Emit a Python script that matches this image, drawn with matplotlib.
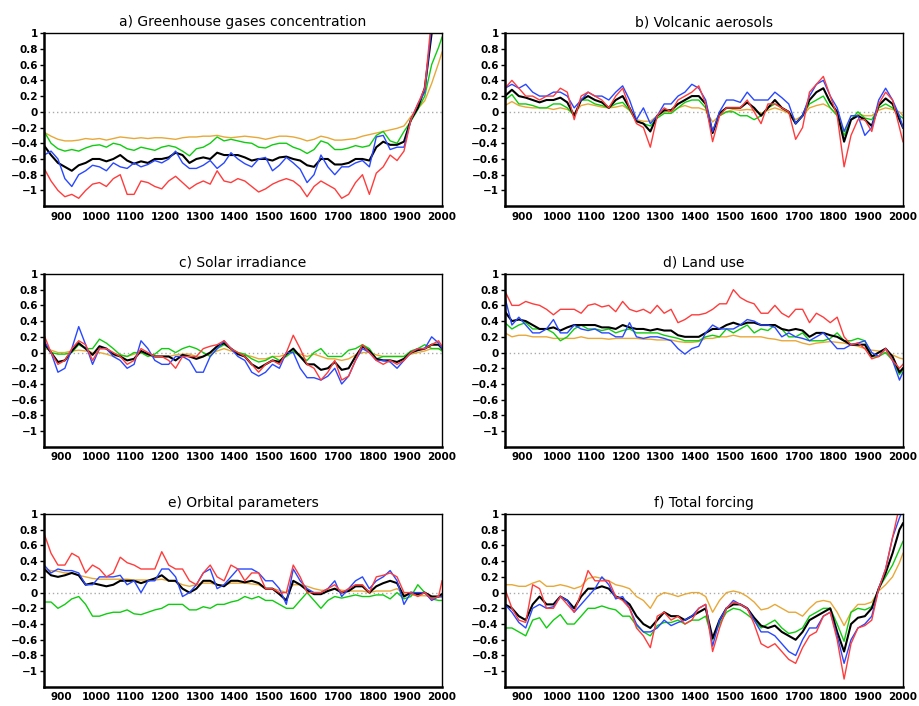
import matplotlib
matplotlib.use("Agg")
import matplotlib.pyplot as plt

# sample years, every 20 years from 850 to 1990, plus 2000
years = list(range(850, 2000, 20)) + [2000]

# a) greenhouse gases
ghg_k = [-0.43, -0.55, -0.65, -0.70, -0.75, -0.68, -0.65, -0.60, -0.60, -0.63,
         -0.60, -0.55, -0.62, -0.66, -0.63, -0.65, -0.60, -0.60, -0.58, -0.52,
         -0.55, -0.65, -0.60, -0.58, -0.60, -0.52, -0.55, -0.55, -0.55, -0.58,
         -0.62, -0.60, -0.60, -0.62, -0.58, -0.57, -0.60, -0.62, -0.68, -0.70,
         -0.60, -0.60, -0.67, -0.67, -0.65, -0.60, -0.60, -0.62, -0.45, -0.38,
         -0.42, -0.42, -0.38, -0.10, 0.05, 0.30, 1.00, 1.30, 1.40]
ghg_b = [-0.55, -0.50, -0.60, -0.85, -0.95, -0.80, -0.75, -0.68, -0.70, -0.75,
         -0.65, -0.70, -0.72, -0.65, -0.70, -0.67, -0.62, -0.65, -0.60, -0.50,
         -0.65, -0.72, -0.72, -0.68, -0.62, -0.72, -0.65, -0.52, -0.60, -0.66,
         -0.70, -0.60, -0.58, -0.75, -0.68, -0.58, -0.65, -0.73, -0.90, -0.80,
         -0.55, -0.70, -0.80, -0.70, -0.70, -0.65, -0.62, -0.70, -0.32, -0.30,
         -0.48, -0.45, -0.45, -0.10, 0.10, 0.25, 1.10, 1.40, 1.50]
ghg_r = [-0.72, -0.88, -1.00, -1.08, -1.05, -1.10, -1.00, -0.92, -0.90, -0.95,
         -0.85, -0.80, -1.05, -1.05, -0.88, -0.90, -0.95, -0.98, -0.88, -0.82,
         -0.90, -0.98, -0.92, -0.88, -0.92, -0.75, -0.88, -0.90, -0.85, -0.88,
         -0.95, -1.02, -0.98, -0.92, -0.88, -0.85, -0.88, -0.95, -1.08, -0.95,
         -0.88, -0.93, -0.98, -1.10, -1.05, -0.90, -0.80, -1.05, -0.78, -0.70,
         -0.55, -0.62, -0.50, -0.10, 0.10, 0.30, 1.20, 1.50, 1.60]
ghg_g = [-0.25, -0.40, -0.47, -0.50, -0.48, -0.50, -0.46, -0.43, -0.42, -0.45,
         -0.40, -0.42, -0.47, -0.49, -0.45, -0.47, -0.49, -0.45, -0.43, -0.45,
         -0.50, -0.56, -0.47, -0.45, -0.40, -0.32, -0.37, -0.35, -0.37, -0.39,
         -0.40, -0.45, -0.46, -0.42, -0.40, -0.40, -0.45, -0.48, -0.53, -0.48,
         -0.37, -0.40, -0.48, -0.48, -0.46, -0.43, -0.45, -0.43, -0.30, -0.25,
         -0.37, -0.40, -0.25, -0.12, 0.03, 0.20, 0.60, 0.82, 0.95]
ghg_o = [-0.26, -0.31, -0.35, -0.37, -0.37, -0.36, -0.34, -0.35, -0.34, -0.36,
         -0.34, -0.32, -0.33, -0.34, -0.33, -0.34, -0.33, -0.33, -0.34, -0.35,
         -0.33, -0.32, -0.32, -0.31, -0.31, -0.30, -0.32, -0.33, -0.32, -0.31,
         -0.32, -0.33, -0.35, -0.33, -0.31, -0.31, -0.32, -0.34, -0.37, -0.35,
         -0.31, -0.33, -0.36, -0.36, -0.35, -0.34, -0.31, -0.29, -0.27, -0.25,
         -0.23, -0.21, -0.18, -0.06, 0.04, 0.14, 0.36, 0.62, 0.76]

# b) volcanic aerosols
volc_k = [0.20, 0.28, 0.20, 0.18, 0.15, 0.12, 0.15, 0.15, 0.18, 0.12,
          -0.05, 0.15, 0.20, 0.15, 0.12, 0.05, 0.15, 0.20, 0.05, -0.12,
          -0.15, -0.25, -0.05, 0.02, 0.02, 0.10, 0.15, 0.20, 0.20, 0.10,
          -0.27, -0.02, 0.05, 0.05, 0.05, 0.12, 0.05, -0.05, 0.05, 0.15,
          0.05, 0.00, -0.15, -0.05, 0.15, 0.25, 0.30, 0.12, 0.00, -0.38,
          -0.10, -0.05, -0.10, -0.18, 0.08, 0.17, 0.10, -0.10, -0.20]
volc_b = [0.30, 0.35, 0.30, 0.35, 0.25, 0.20, 0.20, 0.25, 0.25, 0.20,
          0.05, 0.15, 0.25, 0.20, 0.20, 0.15, 0.25, 0.33, 0.15, -0.10,
          0.05, -0.15, -0.05, 0.10, 0.10, 0.20, 0.25, 0.35, 0.30, 0.15,
          -0.25, 0.00, 0.15, 0.15, 0.12, 0.25, 0.15, 0.15, 0.15, 0.25,
          0.18, 0.10, -0.15, -0.05, 0.20, 0.35, 0.40, 0.20, 0.05, -0.25,
          -0.05, -0.05, -0.30, -0.20, 0.15, 0.30, 0.15, -0.05, -0.20]
volc_r = [0.30, 0.40, 0.30, 0.20, 0.20, 0.15, 0.20, 0.20, 0.30, 0.25,
          -0.10, 0.20, 0.25, 0.20, 0.15, 0.05, 0.20, 0.30, 0.05, -0.15,
          -0.20, -0.45, -0.05, 0.05, 0.00, 0.15, 0.20, 0.25, 0.33, 0.10,
          -0.38, -0.05, 0.05, 0.05, 0.05, 0.15, 0.00, -0.15, 0.10, 0.10,
          0.05, 0.00, -0.35, -0.20, 0.25, 0.35, 0.45, 0.20, -0.05, -0.70,
          -0.30, -0.10, -0.10, -0.25, 0.10, 0.25, 0.15, -0.20, -0.38]
volc_g = [0.15, 0.22, 0.10, 0.10, 0.08, 0.05, 0.05, 0.10, 0.10, 0.05,
          -0.05, 0.15, 0.15, 0.10, 0.08, 0.05, 0.10, 0.12, 0.02, -0.12,
          -0.15, -0.18, -0.08, -0.02, -0.02, 0.05, 0.12, 0.15, 0.15, 0.05,
          -0.25, -0.05, 0.00, 0.00, -0.05, -0.05, -0.10, -0.05, 0.05, 0.10,
          0.05, 0.00, -0.15, -0.05, 0.10, 0.15, 0.20, 0.05, -0.05, -0.30,
          -0.10, 0.00, -0.08, -0.10, 0.05, 0.10, 0.05, -0.05, -0.08]
volc_o = [0.08, 0.13, 0.08, 0.06, 0.05, 0.05, 0.05, 0.03, 0.05, 0.03,
          -0.02, 0.08, 0.10, 0.08, 0.06, 0.05, 0.06, 0.08, 0.02, -0.10,
          -0.12, -0.12, -0.05, 0.00, 0.00, 0.05, 0.08, 0.05, 0.05, 0.02,
          -0.13, -0.05, 0.00, 0.03, 0.02, 0.03, 0.02, -0.02, 0.02, 0.05,
          0.02, -0.02, -0.10, -0.05, 0.05, 0.08, 0.10, 0.05, -0.03, -0.25,
          -0.10, -0.03, -0.05, -0.05, 0.02, 0.05, 0.03, 0.00, -0.05]

# c) solar irradiance
sol_k = [0.12, 0.00, -0.12, -0.10, 0.02, 0.12, 0.05, -0.03, 0.08, 0.05,
         -0.02, -0.05, -0.10, -0.08, 0.02, -0.02, -0.05, -0.05, -0.05, -0.10,
         -0.03, -0.05, -0.08, -0.05, 0.00, 0.08, 0.12, 0.05, -0.02, -0.05,
         -0.15, -0.20, -0.15, -0.10, -0.12, -0.02, 0.05, -0.05, -0.15, -0.15,
         -0.22, -0.20, -0.12, -0.22, -0.20, -0.05, 0.08, 0.02, -0.08, -0.10,
         -0.10, -0.12, -0.08, 0.00, 0.03, 0.05, 0.10, 0.10, 0.05]
sol_b = [0.15, 0.00, -0.25, -0.20, 0.05, 0.33, 0.10, -0.15, 0.05, 0.05,
         -0.05, -0.10, -0.20, -0.15, 0.15, 0.05, -0.10, -0.15, -0.15, -0.05,
         -0.05, -0.10, -0.25, -0.25, -0.05, 0.05, 0.15, 0.05, -0.05, -0.10,
         -0.25, -0.30, -0.25, -0.15, -0.20, 0.00, 0.00, -0.20, -0.32, -0.32,
         -0.35, -0.30, -0.20, -0.40, -0.30, -0.10, 0.05, 0.00, -0.10, -0.10,
         -0.12, -0.20, -0.10, 0.00, 0.05, 0.05, 0.20, 0.12, 0.05]
sol_r = [0.22, 0.00, -0.15, -0.10, 0.05, 0.15, 0.10, -0.10, 0.05, 0.05,
         0.00, -0.05, -0.15, -0.10, 0.05, 0.00, -0.05, -0.05, -0.10, -0.20,
         -0.05, -0.05, -0.05, 0.05, 0.08, 0.10, 0.15, 0.05, 0.00, -0.05,
         -0.15, -0.25, -0.15, -0.10, -0.15, 0.00, 0.22, 0.05, -0.15, -0.20,
         -0.35, -0.25, -0.10, -0.35, -0.30, -0.10, 0.10, 0.00, -0.10, -0.15,
         -0.10, -0.15, -0.10, 0.00, 0.05, 0.05, 0.10, 0.15, 0.08]
sol_g = [0.10, 0.00, -0.02, -0.02, 0.00, 0.10, 0.05, 0.05, 0.17, 0.12,
         0.05, -0.03, -0.05, 0.00, 0.00, -0.05, -0.02, 0.05, 0.05, 0.00,
         0.05, 0.08, 0.05, 0.00, -0.05, 0.05, 0.10, 0.05, 0.00, -0.02,
         -0.08, -0.12, -0.10, -0.05, -0.10, -0.05, 0.02, -0.05, -0.10, 0.00,
         0.05, -0.05, -0.05, -0.05, 0.03, 0.05, 0.10, 0.05, -0.08, -0.05,
         -0.05, -0.05, -0.05, 0.02, 0.05, 0.10, 0.05, 0.05, 0.02]
sol_o = [0.05, 0.03, 0.00, 0.00, 0.02, 0.03, 0.02, 0.00, 0.00, -0.02,
         -0.05, -0.03, -0.05, -0.02, 0.00, -0.03, -0.05, -0.05, -0.05, -0.03,
         -0.02, -0.02, -0.05, -0.05, -0.02, 0.02, 0.05, 0.02, 0.00, -0.03,
         -0.05, -0.08, -0.08, -0.05, -0.05, -0.02, 0.00, -0.02, -0.05, -0.02,
         -0.05, -0.08, -0.08, -0.10, -0.08, -0.03, 0.00, 0.00, -0.03, -0.05,
         -0.05, -0.05, -0.05, -0.02, 0.00, 0.02, 0.05, 0.05, 0.03]

# d) land use
land_k = [0.52, 0.40, 0.42, 0.40, 0.35, 0.30, 0.30, 0.32, 0.28, 0.32,
          0.35, 0.35, 0.35, 0.35, 0.32, 0.32, 0.30, 0.35, 0.32, 0.30,
          0.30, 0.28, 0.30, 0.28, 0.28, 0.22, 0.20, 0.20, 0.20, 0.25,
          0.30, 0.30, 0.35, 0.38, 0.35, 0.38, 0.38, 0.35, 0.35, 0.35,
          0.30, 0.28, 0.30, 0.28, 0.20, 0.25, 0.25, 0.22, 0.20, 0.15,
          0.10, 0.10, 0.10, -0.05, 0.00, 0.05, -0.05, -0.25, -0.20]
land_b = [0.70, 0.35, 0.45, 0.35, 0.25, 0.25, 0.30, 0.42, 0.25, 0.25,
          0.35, 0.30, 0.28, 0.30, 0.25, 0.25, 0.20, 0.20, 0.38, 0.20,
          0.18, 0.20, 0.20, 0.18, 0.15, 0.05, -0.02, 0.05, 0.08, 0.25,
          0.35, 0.30, 0.30, 0.30, 0.35, 0.42, 0.40, 0.35, 0.35, 0.32,
          0.20, 0.25, 0.20, 0.18, 0.15, 0.20, 0.25, 0.15, 0.05, 0.05,
          0.10, 0.12, 0.15, 0.00, -0.05, 0.05, -0.10, -0.35, -0.25]
land_r = [0.78, 0.60, 0.60, 0.65, 0.62, 0.60, 0.55, 0.48, 0.55, 0.55,
          0.55, 0.50, 0.60, 0.62, 0.58, 0.60, 0.52, 0.65, 0.55, 0.52,
          0.55, 0.50, 0.60, 0.50, 0.55, 0.38, 0.42, 0.48, 0.48, 0.50,
          0.55, 0.62, 0.62, 0.80, 0.70, 0.65, 0.62, 0.50, 0.50, 0.60,
          0.50, 0.45, 0.55, 0.55, 0.38, 0.50, 0.45, 0.38, 0.45, 0.20,
          0.10, 0.12, 0.05, -0.08, -0.05, 0.05, -0.10, -0.20, -0.15]
land_g = [0.38, 0.30, 0.35, 0.38, 0.30, 0.30, 0.30, 0.25, 0.15, 0.20,
          0.30, 0.35, 0.30, 0.30, 0.28, 0.30, 0.25, 0.28, 0.30, 0.25,
          0.25, 0.25, 0.25, 0.22, 0.20, 0.18, 0.15, 0.15, 0.15, 0.20,
          0.22, 0.20, 0.30, 0.25, 0.30, 0.35, 0.25, 0.30, 0.28, 0.35,
          0.30, 0.20, 0.20, 0.25, 0.15, 0.15, 0.15, 0.18, 0.25, 0.15,
          0.15, 0.18, 0.15, -0.05, -0.05, 0.00, -0.10, -0.28, -0.22]
land_o = [0.25, 0.20, 0.22, 0.22, 0.20, 0.20, 0.20, 0.18, 0.18, 0.18,
          0.18, 0.20, 0.18, 0.18, 0.18, 0.17, 0.18, 0.18, 0.18, 0.18,
          0.17, 0.17, 0.16, 0.16, 0.16, 0.14, 0.13, 0.13, 0.14, 0.18,
          0.18, 0.20, 0.20, 0.22, 0.20, 0.20, 0.20, 0.20, 0.18, 0.17,
          0.15, 0.15, 0.15, 0.12, 0.10, 0.12, 0.13, 0.14, 0.13, 0.12,
          0.10, 0.08, 0.05, 0.03, 0.02, 0.00, -0.03, -0.07, -0.08]

# e) orbital parameters
orb_k = [0.30, 0.22, 0.20, 0.22, 0.25, 0.22, 0.10, 0.12, 0.10, 0.08,
         0.10, 0.15, 0.15, 0.15, 0.12, 0.15, 0.18, 0.22, 0.15, 0.15,
         0.05, 0.00, 0.05, 0.15, 0.15, 0.10, 0.08, 0.15, 0.15, 0.13,
         0.15, 0.12, 0.05, 0.05, -0.02, -0.10, 0.15, 0.10, 0.03, -0.02,
         -0.02, 0.02, 0.05, 0.00, 0.02, 0.08, 0.08, 0.00, 0.08, 0.12,
         0.15, 0.12, -0.05, 0.00, -0.02, 0.00, -0.05, -0.05, -0.02]
orb_b = [0.35, 0.25, 0.30, 0.28, 0.28, 0.25, 0.10, 0.10, 0.20, 0.20,
         0.20, 0.22, 0.10, 0.15, 0.00, 0.15, 0.15, 0.30, 0.30, 0.20,
         -0.05, 0.00, 0.10, 0.25, 0.30, 0.05, 0.10, 0.20, 0.30, 0.30,
         0.30, 0.25, 0.15, 0.15, 0.05, -0.15, 0.30, 0.15, 0.05, 0.00,
         0.00, 0.05, 0.15, -0.05, 0.05, 0.15, 0.20, 0.05, 0.15, 0.20,
         0.28, 0.15, -0.15, 0.00, 0.00, 0.00, -0.10, -0.05, -0.05]
orb_r = [0.75, 0.50, 0.35, 0.35, 0.50, 0.45, 0.25, 0.35, 0.30, 0.20,
         0.25, 0.45, 0.38, 0.35, 0.30, 0.30, 0.30, 0.52, 0.35, 0.30,
         0.30, 0.15, 0.10, 0.25, 0.35, 0.20, 0.15, 0.35, 0.30, 0.15,
         0.25, 0.25, 0.05, 0.05, 0.00, 0.00, 0.35, 0.20, 0.00, 0.00,
         0.00, 0.05, 0.10, 0.00, 0.05, 0.10, 0.10, 0.00, 0.20, 0.22,
         0.25, 0.20, 0.00, 0.00, -0.05, 0.00, -0.08, -0.05, 0.15]
orb_g = [-0.12, -0.12, -0.20, -0.15, -0.08, -0.05, -0.15, -0.30, -0.30, -0.27,
         -0.25, -0.25, -0.22, -0.27, -0.28, -0.25, -0.22, -0.20, -0.15, -0.15,
         -0.15, -0.22, -0.22, -0.18, -0.20, -0.15, -0.15, -0.12, -0.10, -0.05,
         -0.08, -0.05, -0.10, -0.10, -0.15, -0.20, -0.20, -0.10, 0.00, -0.10,
         -0.20, -0.10, -0.05, -0.07, -0.05, -0.03, -0.05, -0.05, -0.03, -0.03,
         -0.08, 0.00, -0.08, -0.05, 0.10, 0.00, -0.08, -0.10, -0.10]
orb_o = [0.30, 0.28, 0.27, 0.25, 0.25, 0.22, 0.20, 0.18, 0.17, 0.17,
         0.17, 0.17, 0.17, 0.16, 0.16, 0.16, 0.16, 0.17, 0.15, 0.14,
         0.10, 0.08, 0.10, 0.12, 0.12, 0.10, 0.10, 0.12, 0.12, 0.12,
         0.11, 0.10, 0.05, 0.05, 0.03, 0.00, 0.10, 0.10, 0.08, 0.05,
         0.03, 0.03, 0.05, 0.03, 0.02, 0.02, 0.02, 0.00, 0.02, 0.02,
         0.02, 0.05, -0.02, -0.03, -0.04, -0.04, -0.05, -0.06, -0.06]

# f) total forcing
tot_k = [-0.15, -0.20, -0.30, -0.35, -0.15, -0.05, -0.15, -0.15, -0.05, -0.10,
         -0.20, -0.05, 0.05, 0.05, 0.08, 0.05, -0.05, -0.08, -0.15, -0.30,
         -0.40, -0.45, -0.35, -0.25, -0.30, -0.30, -0.35, -0.30, -0.25, -0.20,
         -0.58, -0.35, -0.20, -0.15, -0.15, -0.20, -0.32, -0.42, -0.45, -0.42,
         -0.50, -0.55, -0.60, -0.50, -0.35, -0.30, -0.25, -0.20, -0.50, -0.75,
         -0.40, -0.32, -0.30, -0.20, 0.05, 0.25, 0.50, 0.80, 0.88]
tot_b = [-0.15, -0.25, -0.38, -0.45, -0.20, -0.15, -0.20, -0.18, -0.05, -0.10,
         -0.25, -0.15, -0.05, 0.05, 0.20, 0.10, -0.08, -0.05, -0.20, -0.40,
         -0.50, -0.50, -0.45, -0.35, -0.42, -0.38, -0.35, -0.30, -0.20, -0.15,
         -0.68, -0.35, -0.20, -0.10, -0.15, -0.20, -0.35, -0.50, -0.50, -0.55,
         -0.65, -0.75, -0.80, -0.60, -0.45, -0.45, -0.30, -0.25, -0.55, -0.90,
         -0.60, -0.45, -0.40, -0.30, 0.05, 0.30, 0.70, 0.95, 1.05]
tot_r = [0.05, -0.20, -0.35, -0.38, 0.10, 0.05, -0.20, -0.20, -0.05, -0.15,
         -0.25, 0.00, 0.28, 0.15, 0.15, 0.15, -0.05, -0.10, -0.20, -0.45,
         -0.55, -0.70, -0.30, -0.25, -0.35, -0.30, -0.40, -0.35, -0.20, -0.15,
         -0.75, -0.45, -0.20, -0.12, -0.15, -0.20, -0.40, -0.65, -0.70, -0.65,
         -0.75, -0.85, -0.90, -0.70, -0.55, -0.50, -0.30, -0.25, -0.60, -1.10,
         -0.65, -0.45, -0.42, -0.35, 0.05, 0.30, 0.70, 1.10, 1.20]
tot_g = [-0.45, -0.45, -0.50, -0.55, -0.35, -0.32, -0.45, -0.35, -0.28, -0.40,
         -0.40, -0.30, -0.20, -0.20, -0.17, -0.20, -0.22, -0.30, -0.30, -0.42,
         -0.50, -0.55, -0.42, -0.38, -0.38, -0.35, -0.40, -0.35, -0.35, -0.30,
         -0.60, -0.40, -0.25, -0.20, -0.22, -0.28, -0.35, -0.45, -0.40, -0.35,
         -0.45, -0.52, -0.50, -0.45, -0.30, -0.25, -0.20, -0.20, -0.40, -0.62,
         -0.25, -0.20, -0.22, -0.18, 0.05, 0.20, 0.35, 0.55, 0.65]
tot_o = [0.10, 0.10, 0.08, 0.08, 0.12, 0.15, 0.08, 0.08, 0.10, 0.08,
         0.05, 0.08, 0.18, 0.20, 0.18, 0.15, 0.10, 0.08, 0.05, -0.05,
         -0.10, -0.20, -0.05, 0.00, -0.02, -0.05, -0.02, 0.00, 0.00, -0.05,
         -0.25, -0.10, 0.00, 0.02, 0.00, -0.05, -0.12, -0.22, -0.20, -0.15,
         -0.20, -0.25, -0.25, -0.30, -0.20, -0.12, -0.10, -0.12, -0.25, -0.42,
         -0.25, -0.15, -0.15, -0.12, 0.02, 0.10, 0.20, 0.38, 0.50]

titles = ["a) Greenhouse gases concentration", "b) Volcanic aerosols",
          "c) Solar irradiance", "d) Land use",
          "e) Orbital parameters", "f) Total forcing"]
panels = [
    (ghg_o, ghg_g, ghg_k, ghg_b, ghg_r),
    (volc_o, volc_g, volc_k, volc_b, volc_r),
    (sol_o, sol_g, sol_k, sol_b, sol_r),
    (land_o, land_g, land_k, land_b, land_r),
    (orb_o, orb_g, orb_k, orb_b, orb_r),
    (tot_o, tot_g, tot_k, tot_b, tot_r),
]
colors = ["#e8a838", "#10cc10", "black", "#2848ff", "#ff3c3c"]
widths = [1.0, 1.0, 1.5, 1.0, 1.0]

yticks = [-1, -0.8, -0.6, -0.4, -0.2, 0, 0.2, 0.4, 0.6, 0.8, 1]
ylabels = ["\u22121", "\u22120.8", "\u22120.6", "\u22120.4", "\u22120.2", "0",
           "0.2", "0.4", "0.6", "0.8", "1"]
xticks = list(range(900, 2001, 100))

fig = plt.figure(figsize=(9.19, 7.06), dpi=100)
lefts = [0.048, 0.5495]
bottoms = [0.708, 0.367, 0.027]
w, h = 0.433, 0.245

for i, (title, series) in enumerate(zip(titles, panels)):
    ax = fig.add_axes([lefts[i % 2], bottoms[i // 2], w, h])
    ax.axhline(0, color="#aaaaaa", lw=1.0, ls=(0, (1, 2)), zorder=1)
    for vals, c, lw in zip(series, colors, widths):
        ax.plot(years, vals, color=c, lw=lw, zorder=2)
    ax.set_xlim(850, 2000)
    ax.set_ylim(-1.2, 1.0)
    ax.set_yticks(yticks)
    ax.set_yticklabels(ylabels)
    ax.set_xticks(xticks)
    ax.set_xticklabels([str(x) for x in xticks])
    ax.tick_params(axis="y", direction="out", length=3, width=1, pad=1.5)
    ax.tick_params(axis="x", length=0, pad=4)
    for lab in ax.get_xticklabels() + ax.get_yticklabels():
        lab.set_fontsize(7.5)
        lab.set_fontweight("bold")
    for side in ("left", "bottom"):
        ax.spines[side].set_linewidth(1.8)
    for side in ("top", "right"):
        ax.spines[side].set_linewidth(1.0)
    ax.set_title(title, fontsize=10, pad=5)

fig.savefig("out.png", dpi=100)
